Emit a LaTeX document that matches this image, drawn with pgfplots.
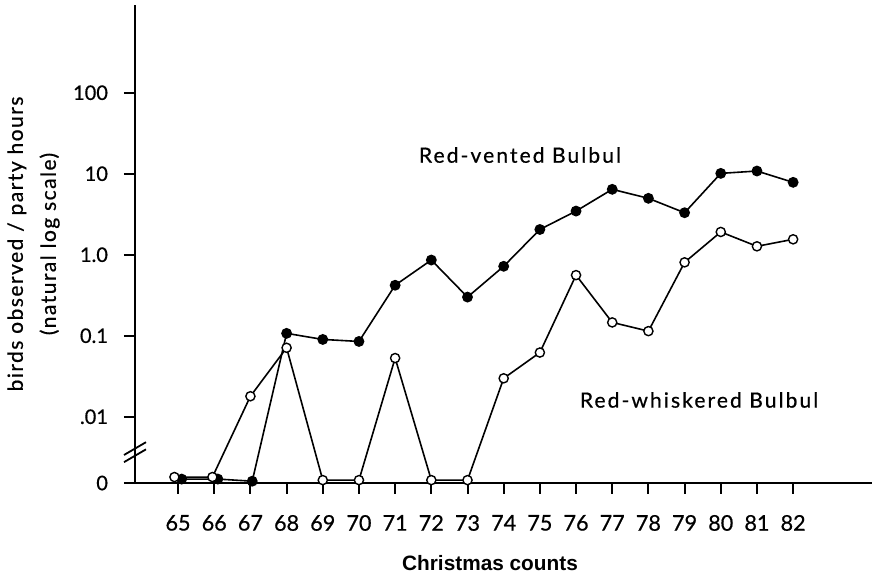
\documentclass[border=0pt]{standalone}
\usepackage{pgfplots}
\pgfplotsset{compat=1.18}
\usepackage{fontspec}
\setmainfont{Lato}[FakeBold=0.6]
\newfontfamily\tickfont[FakeBold=0.6]{Lato}
\newfontfamily\labfont[LetterSpace=7,FakeBold=0.6]{Lato}
\newfontfamily\curvefont[LetterSpace=10,FakeBold=0.6]{Lato}
\newfontfamily\headfont{Liberation Sans}

\pgfplotstableread{
x y
65.1 0.0017
66.1 0.0017
67.05 0.0016
68 0.107
69 0.090
70 0.085
71 0.42
72 0.86
73 0.30
74 0.72
75 2.05
76 3.46
77 6.42
78 4.97
79 3.30
80 10.1
81 10.8
82 7.83
}\redvented

\pgfplotstableread{
x y
64.9 0.0018
65.95 0.0018
67 0.0179
68 0.071
69 0.00165
70 0.00165
71 0.053
72 0.00165
73 0.00165
74 0.0298
75 0.062
76 0.56
77 0.146
78 0.114
79 0.805
80 1.91
81 1.27
82 1.55
}\redwhiskered

\begin{document}
\begin{tikzpicture}
\path[use as bounding box] (-67.5pt,-44.5pt) rectangle (370.5pt,241.5pt);
\begin{axis}[
  at={(0pt,0pt)}, anchor=south west,
  scale only axis, width=368.5pt, height=239pt,
  xmin=63.81, xmax=84.18,
  ymode=log, ymin=0.00152, ymax=1211,
  axis x line=bottom, axis y line=left,
  axis line style={-, line width=1.3pt},
  clip=false,
  xtick={65,66,67,68,69,70,71,72,73,74,75,76,77,78,79,80,81,82},
  ytick={0.00152,0.01,0.1,1,10,100},
  yticklabels={0,.01,0.1,1.0,10,100},
  yminorticks=false, xminorticks=false,
  tick align=outside, major tick length=5.5pt,
  tick style={line width=1pt, black},
  /pgf/number format/assume math mode=true,
  yticklabel style={font=\tickfont\fontsize{10}{12}\selectfont, xshift=-4.5pt},
  xticklabel style={font=\tickfont\fontsize{10.8}{12}\selectfont, yshift=-7pt},
  every axis y label/.style={at={(axis description cs:-0.1377,0.5)}, rotate=90, anchor=center, align=center, font=\labfont\fontsize{10.5}{16.5}\selectfont},
  every axis x label/.style={at={(axis description cs:0.4817,-0.1674)}, anchor=center, font=\headfont\bfseries\fontsize{10.4}{12}\selectfont},
  ylabel={birds observed / party hours\\(natural log scale)},
  xlabel={Christmas counts},
]
\addplot[black, line width=0.8pt, mark=*, mark size=2.3pt, mark options={fill=black}] table[x=x,y=y] {\redvented};
\addplot[black, line width=0.8pt, mark=*, mark size=2.3pt, mark options={fill=white, line width=0.7pt}] table[x=x,y=y] {\redwhiskered};
\node[font=\curvefont\fontsize{10.5}{12}\selectfont] at (axis cs:74.45,17.0) {Red-vented Bulbul};
\node[font=\curvefont\fontsize{10.5}{12}\selectfont] at (axis cs:79.4,0.0161) {Red-whiskered Bulbul};
\draw[line width=0.9pt] ([shift={(-5.5pt,-3.2pt)}]rel axis cs:0,0.072) -- ([shift={(5.5pt,3.2pt)}]rel axis cs:0,0.072);
\draw[line width=0.9pt] ([shift={(-5.5pt,-3.2pt)}]rel axis cs:0,0.057) -- ([shift={(5.5pt,3.2pt)}]rel axis cs:0,0.057);
\end{axis}
\end{tikzpicture}
\end{document}
